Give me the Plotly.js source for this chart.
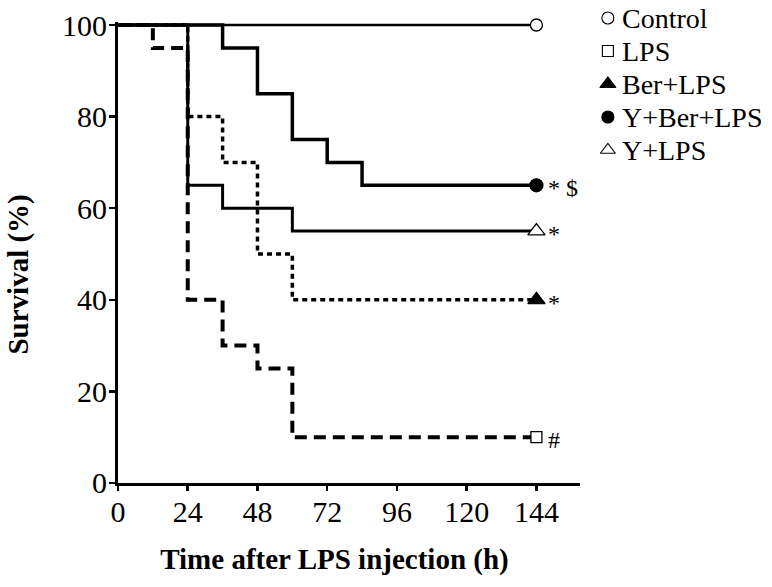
<!DOCTYPE html>
<html>
<head>
<meta charset="utf-8">
<script src="https://cdn.plot.ly/plotly-3.0.1.min.js"></script>
<style>html,body{margin:0;padding:0;background:#fff;}#chart{width:772px;height:587px;}</style>
</head>
<body>
<div id="chart"></div>
<script>
// Survival data (time in hours, survival in %)
const controlT = [0, 144];
const controlS = [100, 100];
const lpsT = [0, 12, 24, 36, 48, 60, 144];
const lpsS = [100, 95, 40, 30, 25, 10, 10];
const berLpsT = [0, 24, 36, 48, 60, 144];
const berLpsS = [100, 80, 70, 50, 40, 40];
const yBerLpsT = [0, 36, 48, 60, 72, 84, 144];
const yBerLpsS = [100, 95, 85, 75, 70, 65, 65];
const yLpsT = [0, 24, 36, 60, 144];
const yLpsS = [100, 65, 60, 55, 55];

const groupNames = ['Control', 'LPS', 'Ber+LPS', 'Y+Ber+LPS', 'Y+LPS'];
const significance = ['', '#', '*', '* $', '*'];
const xTicks = [0, 24, 48, 72, 96, 120, 144];
const yTicks = [0, 20, 40, 60, 80, 100];

const series = [
  {t: controlT, s: controlS, dash: 'solid', w: 2.5,
   sym: 'circle', fill: '#fff', size: 12, lsize: 12},
  {t: lpsT, s: lpsS, dash: '12px,7px', w: 4,
   sym: 'square', fill: '#fff', size: 11, lsize: 11},
  {t: berLpsT, s: berLpsS, dash: '5px,4px', w: 3.5,
   sym: 'triangle-up', fill: '#000', size: 15, lsize: 14},
  {t: yBerLpsT, s: yBerLpsS, dash: 'solid', w: 3.5,
   sym: 'circle', fill: '#000', size: 13, lsize: 12},
  {t: yLpsT, s: yLpsS, dash: 'solid', w: 3,
   sym: 'triangle-up', fill: '#fff', size: 15, lsize: 13}
];

const traces = [];
// step curves
series.forEach((d) => {
  traces.push({
    x: d.t, y: d.s, type: 'scatter', mode: 'lines',
    line: {shape: 'hv', color: '#000', width: d.w, dash: d.dash},
    showlegend: false, hoverinfo: 'skip'
  });
});
// end markers
series.forEach((d, i) => {
  const n = d.t.length - 1;
  traces.push({
    x: [d.t[n]], y: [d.s[n]], type: 'scatter', mode: 'markers',
    name: groupNames[i], cliponaxis: false, showlegend: false,
    marker: {symbol: d.sym, color: d.fill, size: d.size, opacity: 1,
             line: {color: '#000', width: 1.3}}
  });
});
// legend symbols (drawn on a separate legend axis pair)
const legendRows = groupNames.map((_, i) => i);
traces.push({
  x: legendRows.map(() => 0), y: legendRows, xaxis: 'x2', yaxis: 'y2',
  type: 'scatter', mode: 'markers', showlegend: false, cliponaxis: false,
  hoverinfo: 'skip',
  marker: {symbol: series.map(d => d.sym), color: series.map(d => d.fill),
           size: series.map(d => d.lsize), opacity: 1,
           line: {color: '#000', width: 1.1}}
});

const annotations = [];
series.forEach((d, i) => {
  if (!significance[i]) return;
  const n = d.t.length - 1;
  annotations.push({
    x: d.t[n], y: d.s[n], xref: 'x', yref: 'y',
    text: significance[i], showarrow: false,
    xanchor: 'left', yanchor: 'middle', xshift: 10, yshift: -3,
    font: {family: 'Liberation Serif', size: 24, color: '#000000'}
  });
});
groupNames.forEach((name, i) => {
  annotations.push({
    x: 12, y: legendRows[i], xref: 'x2', yref: 'y2',
    text: name, showarrow: false, xanchor: 'left', yanchor: 'middle',
    font: {family: 'Liberation Serif', size: 28, color: '#000000'}
  });
});

const layout = {
  width: 772, height: 587,
  paper_bgcolor: '#fff', plot_bgcolor: '#fff',
  margin: {l: 118, r: 0, t: 0, b: 104},
  font: {family: 'Liberation Serif', color: '#000'},
  xaxis: {
    domain: [0, 0.70642],
    range: [0, 159], tickvals: xTicks, ticktext: xTicks.map(String),
    showgrid: false, zeroline: false, showline: true,
    linecolor: '#000', linewidth: 3,
    ticks: 'outside', ticklen: 5, tickwidth: 2.5, tickcolor: '#000',
    ticklabelstandoff: -5,
    tickfont: {family: 'Liberation Serif', size: 30, color: '#000'},
    title: {text: '<b>Time after LPS injection (h)' + '&nbsp;'.repeat(4) + '</b>',
            font: {family: 'Liberation Serif', size: 29, color: '#000'}, standoff: 22}
  },
  yaxis: {
    domain: [0, 0.9539],
    range: [0, 100.6], tickvals: yTicks, ticktext: yTicks.map(String),
    showgrid: false, zeroline: false, showline: true,
    linecolor: '#000', linewidth: 3,
    ticks: 'outside', ticklen: 6, tickwidth: 2.5, tickcolor: '#000',
    ticklabelstandoff: -4,
    tickfont: {family: 'Liberation Serif', size: 30, color: '#000'},
    title: {text: '<b>Survival (%)' + '&nbsp;'.repeat(6) + '</b>',
            font: {family: 'Liberation Serif', size: 29, color: '#000'}, standoff: 25}
  },
  xaxis2: {
    domain: [0.72, 1], anchor: 'y2', range: [-19, 164.1],
    visible: false, fixedrange: true
  },
  yaxis2: {
    domain: [0.6, 1], anchor: 'x2', range: [5.309, -0.5455],
    visible: false, fixedrange: true
  },
  annotations: annotations,
  showlegend: false
};

Plotly.newPlot('chart', traces, layout, {displayModeBar: false, staticPlot: true});
</script>
</body>
</html>
